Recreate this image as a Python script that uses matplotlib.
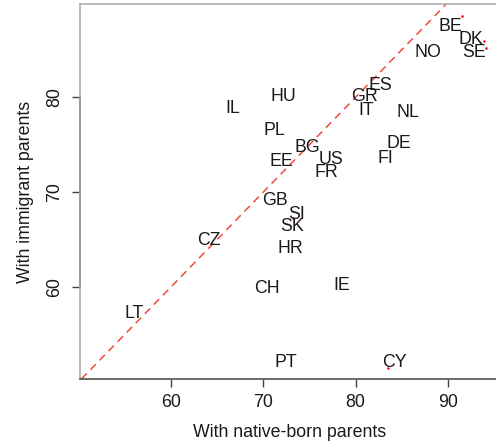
import matplotlib
matplotlib.use("Agg")
import matplotlib.pyplot as plt
import matplotlib.transforms as mtransforms

plt.rcParams['font.family'] = ['Liberation Sans', 'DejaVu Sans']

# country codes, point values (red dots) and where the label sits
countries = ["BE", "DK", "SE", "NO", "ES", "GR", "IT", "NL", "DE", "FI",
             "US", "FR", "BG", "EE", "PL", "HU", "IL", "GB", "SI", "SK",
             "HR", "CZ", "LT", "CH", "IE", "PT", "CY"]
native = [91.5, 93.9, 94.1, 87.8, 82.7, 80.9, 81.1, 85.7, 84.7, 83.2,
          77.3, 76.8, 74.8, 72.0, 71.2, 72.2, 66.7, 71.3, 73.2, 73.1,
          72.9, 64.1, 56.1, 70.4, 78.5, 72.5, 83.5]
immigrant = [88.5, 85.9, 85.2, 84.9, 81.4, 80.2, 78.8, 78.6, 75.3, 73.7,
             73.6, 72.3, 74.9, 73.4, 76.7, 80.2, 79.0, 69.3, 67.3, 66.6,
             64.3, 65.1, 57.4, 60.0, 60.4, 52.3, 51.5]
label_x = [90.2, 92.4, 92.8, 87.8, 82.7, 80.9, 81.1, 85.7, 84.7, 83.2,
           77.3, 76.8, 74.8, 72.0, 71.2, 72.2, 66.7, 71.3, 73.6, 73.1,
           72.9, 64.1, 56.1, 70.4, 78.5, 72.5, 84.2]
label_y = [87.6, 86.2, 84.9, 84.9, 81.4, 80.2, 78.8, 78.6, 75.3, 73.7,
           73.6, 72.3, 74.9, 73.4, 76.7, 80.2, 79.0, 69.3, 67.8, 66.6,
           64.3, 65.1, 57.4, 60.0, 60.4, 52.3, 52.3]
# in the original most dots are hidden under their label
dot_shown = ["BE", "DK", "SE", "SI", "CY"]

xticks = [60, 70, 80, 90]
yticks = [60, 70, 80]

fig = plt.figure(figsize=(4.96, 4.48), dpi=100)
ax = fig.add_axes([80 / 496, 69 / 448, 420 / 496, 375 / 448])

dx = [x for c, x in zip(countries, native) if c in dot_shown]
dy = [y for c, y in zip(countries, immigrant) if c in dot_shown]
ax.plot(dx, dy, 'o', color='red', markersize=1.8, markeredgewidth=0, zorder=2)
ax.axline((0, 0), slope=1, color='#f04a3a', lw=1.1, linestyle=(0, (5, 3.5)), zorder=1)

# nudge labels a touch down so caps sit centred like R's text()
lab_tr = ax.transData + mtransforms.ScaledTranslation(0, -1.2 / 72, fig.dpi_scale_trans)
for c, lx, ly in zip(countries, label_x, label_y):
    ax.text(lx, ly, c, ha='center', va='center', fontsize=12.8, color='#1a1a1a',
            zorder=3, transform=lab_tr)

ax.set_xlim(50.2, 95.6)
ax.set_ylim(50.35, 89.8)

for s in ax.spines.values():
    s.set_color('#a8a8a8')
    s.set_linewidth(1.1)
ax.spines['right'].set_visible(False)
ax.spines['bottom'].set_color('#444444')

# R style axis line between first and last tick
ty = mtransforms.blended_transform_factory(ax.transAxes, ax.transData)
ax.plot([0, 0], [yticks[0], yticks[-1]], color='#555555', lw=1.1, transform=ty, clip_on=False)

ax.set_xticks(xticks)
ax.set_yticks(yticks)
ax.set_yticklabels([str(v) for v in yticks], rotation=90, va='center')
ax.tick_params(direction='out', length=5.5, width=1, color='#444444',
               labelsize=12.8, labelcolor='#1a1a1a')
ax.tick_params(axis='x', pad=5)
ax.tick_params(axis='y', pad=6.5)

ax.set_xlabel("With native-born parents", fontsize=12.8, color='#1a1a1a', labelpad=10)
ax.set_ylabel("With immigrant parents", fontsize=12.8, color='#1a1a1a', labelpad=9)

fig.savefig("out.png", dpi=100)
